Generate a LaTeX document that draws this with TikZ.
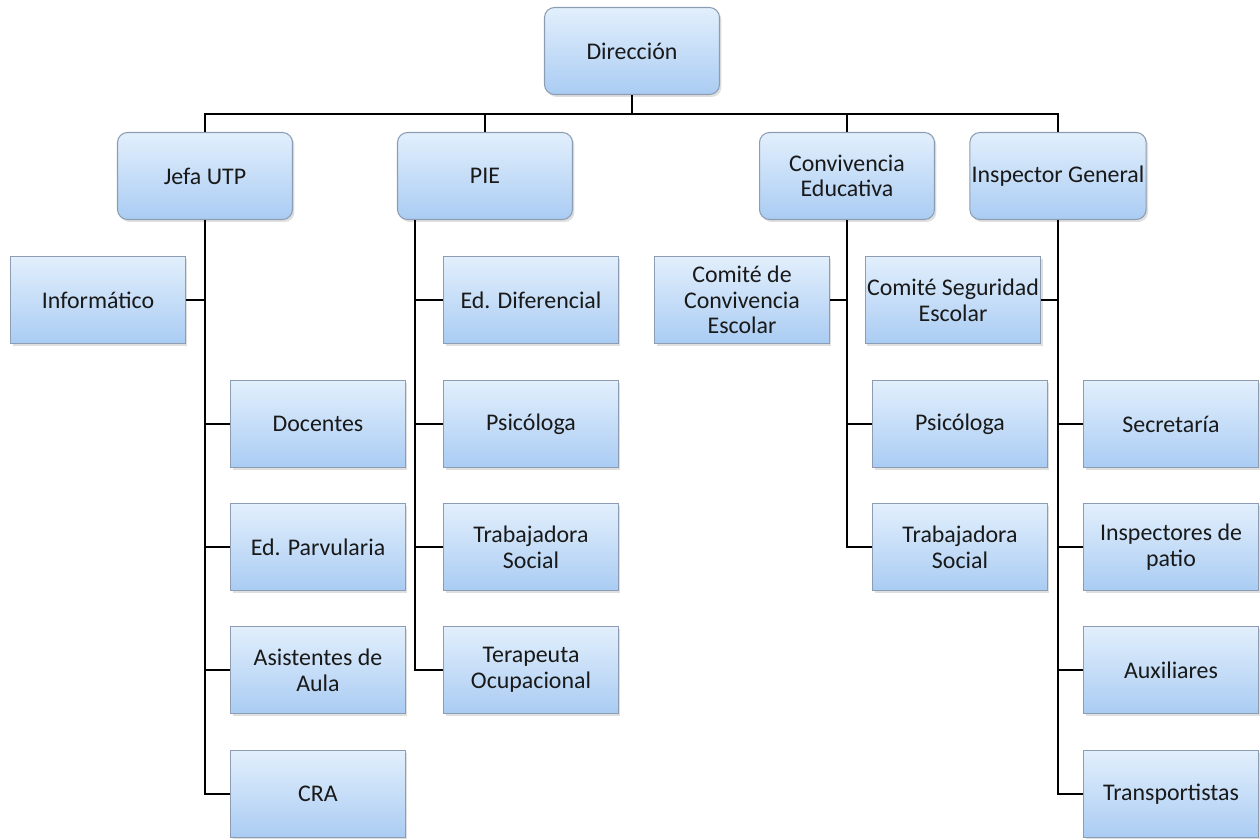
\documentclass[tikz,border=0pt]{standalone}
\usepackage{fontspec}
\setmainfont{Carlito}
\usetikzlibrary{shadows}
\definecolor{boxtop}{HTML}{E2EFFC}
\definecolor{boxbot}{HTML}{AACCF3}
\definecolor{boxline}{HTML}{8C9DB3}
\begin{document}
\begin{tikzpicture}[
    x=0.02cm, y=-0.02cm,
    every node/.style={font=\fontsize{13.6}{14.6}\selectfont, align=center, text=black!90},
    unit/.style={draw=boxline, line width=0.6pt, top color=boxtop, bottom color=boxbot,
        minimum width=3.5cm, minimum height=1.74cm, inner sep=1pt,
        drop shadow={opacity=0.25, shadow xshift=0.04cm, shadow yshift=-0.05cm}},
    head/.style={unit, rounded corners=0.2cm},
    link/.style={line width=1.4pt, black}
]
\useasboundingbox (0,0) rectangle (1260,838);

% Direccion y jefaturas
\node[head] (dir) at (632,51) {Dirección};
\node[head] (utp) at (205,176) {Jefa UTP};
\node[head] (pie) at (485,176) {PIE};
\node[head] (conv) at (847,176) {Convivencia\\Educativa};
\node[head] (insp) at (1058,176) {Inspector General};

% Jefa UTP
\node[unit] (info) at (98,300) {Informático};
\node[unit] (doc) at (318,424) {Docentes};
\node[unit] (parv) at (318,547) {Ed. Parvularia};
\node[unit] (asis) at (318,670) {Asistentes de\\Aula};
\node[unit] (cra) at (318,794) {CRA};

% PIE
\node[unit] (dife) at (531,300) {Ed. Diferencial};
\node[unit] (psia) at (531,424) {Psicóloga};
\node[unit] (traa) at (531,547) {Trabajadora\\Social};
\node[unit] (tera) at (531,670) {Terapeuta\\Ocupacional};

% Convivencia Educativa
\node[unit] (ccon) at (742,300) {Comité de\\Convivencia\\Escolar};
\node[unit] (psib) at (960,424) {Psicóloga};
\node[unit] (trab) at (960,547) {Trabajadora\\Social};

% Inspector General
\node[unit] (cseg) at (953,300) {Comité Seguridad\\Escolar};
\node[unit] (secr) at (1171,424) {Secretaría};
\node[unit] (ipat) at (1171,547) {Inspectores de\\patio};
\node[unit] (auxi) at (1171,670) {Auxiliares};
\node[unit] (tran) at (1171,794) {Transportistas};

% Conectores
\coordinate (bus) at (632,114);
\draw[link] (dir.south) -- (bus);
\foreach \h in {utp,pie,conv,insp}
    \draw[link] (bus) -| (\h.north);

\draw[link] (utp.south) |- (cra.west);
\draw[link] (info.east) -- (info.east -| utp.south);
\foreach \c in {doc,parv,asis}
    \draw[link] (\c.west) -- (\c.west -| utp.south);

\coordinate (piex) at ([xshift=0.36cm]pie.south west);
\draw[link] (piex) |- (tera.west);
\foreach \c in {dife,psia,traa}
    \draw[link] (\c.west) -- (\c.west -| piex);

\draw[link] (conv.south) |- (trab.west);
\draw[link] (ccon.east) -- (ccon.east -| conv.south);
\draw[link] (psib.west) -- (psib.west -| conv.south);

\draw[link] (insp.south) |- (tran.west);
\draw[link] (cseg.east) -- (cseg.east -| insp.south);
\foreach \c in {secr,ipat,auxi}
    \draw[link] (\c.west) -- (\c.west -| insp.south);
\end{tikzpicture}
\end{document}
